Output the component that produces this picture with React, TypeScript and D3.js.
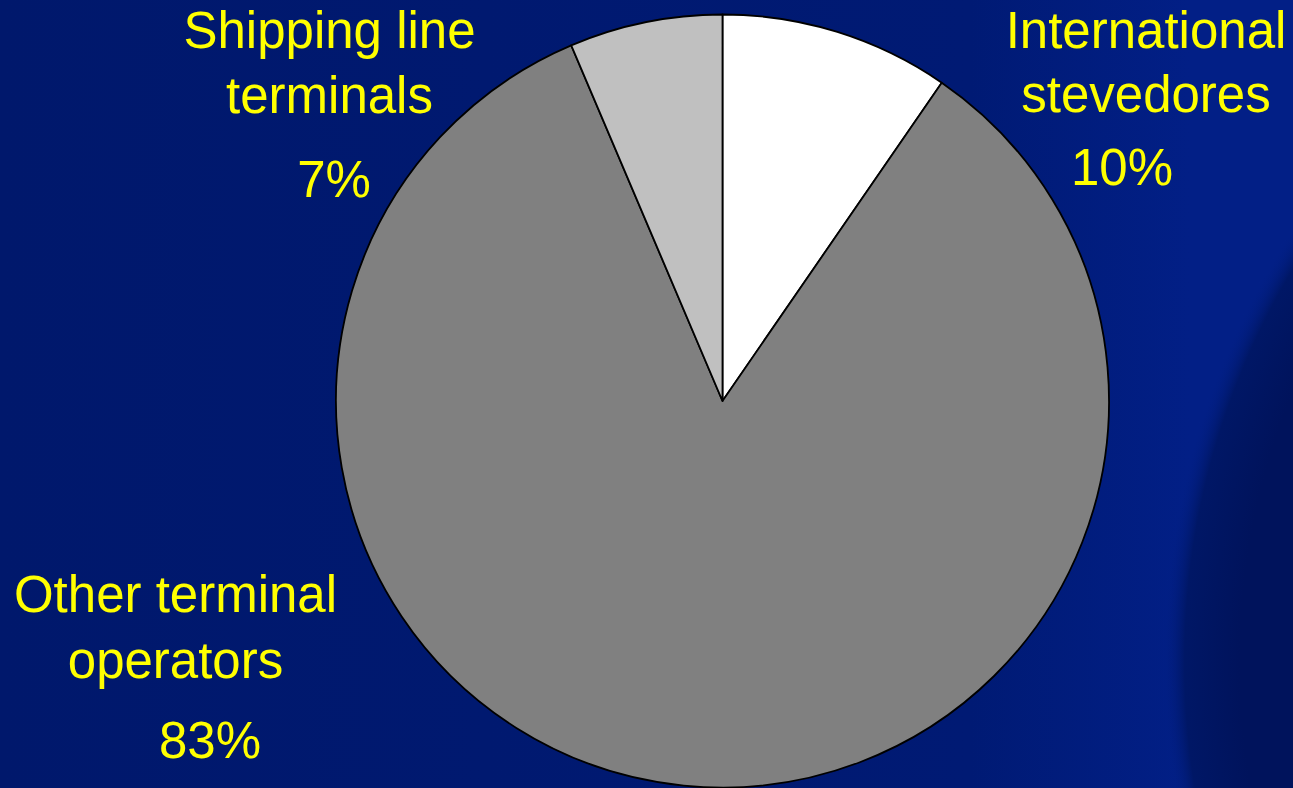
import React from "react";
import * as d3 from "d3";

const categories = ["International stevedores", "Other terminal operators", "Shipping line terminals"];
const shares = [9.6, 84.0, 6.4];
const labelLines = [["International", "stevedores"], ["Other terminal", "operators"], ["Shipping line", "terminals"]];
const pctLabels = ["10%", "83%", "7%"];
const sliceColors = ["#ffffff", "#808080", "#c0c0c0"];

const W = 1293;
const H = 788;
const CX = 722.5;
const CY = 401;
const R = 386.5;

// label layout (center x, baseline of first line, second line, pct line, pct center x)
const labelLayout = [
  { x: 1146, y1: 48, y2: 112, yp: 185, xp: 1122 },
  { x: 175.5, y1: 612, y2: 678, yp: 758, xp: 210 },
  { x: 329.5, y1: 48, y2: 113, yp: 197, xp: 334 },
];

export default function App() {
  const data = categories.map((c, i) => ({ name: c, value: shares[i], i }));
  const pie = d3.pie<any>().sort(null).value((d) => d.value).startAngle(0).endAngle(2 * Math.PI);
  const arcs = pie(data);
  const arc = d3.arc<any>().innerRadius(0).outerRadius(R);

  return (
    <svg
      width={W}
      height={H}
      style={{ position: "absolute", left: 0, top: 0, display: "block" }}
      fontFamily="'Liberation Sans', Arial, sans-serif"
    >
      <defs>
        <linearGradient id="bg" x1="0" y1="0" x2="1" y2="0">
          <stop offset="0" stopColor="#00186c" />
          <stop offset="0.75" stopColor="#001a74" />
          <stop offset="0.92" stopColor="#021f86" />
          <stop offset="1" stopColor="#021f86" />
        </linearGradient>
        <radialGradient id="dark" cx="0.5" cy="0.5" r="0.5">
          <stop offset="0.9" stopColor="#00135c" />
          <stop offset="0.97" stopColor="#001766" />
          <stop offset="1" stopColor="#02208a" stopOpacity="0" />
        </radialGradient>
      </defs>
      <rect x={0} y={0} width={W} height={H} fill="url(#bg)" />
      <circle cx={1951} cy={662} r={790} fill="url(#dark)" />
      <g transform={`translate(${CX},${CY})`}>
        {arcs.map((a, i) => (
          <path key={i} d={arc(a) as string} fill={sliceColors[i]} stroke="#000" strokeWidth={1.8} strokeLinejoin="round" />
        ))}
      </g>
      {labelLayout.map((l, i) => (
        <g key={i} fill="#ffff00" fontSize={51} textAnchor="middle">
          <text x={l.x} y={l.y1}>{labelLines[i][0]}</text>
          <text x={l.x} y={l.y2}>{labelLines[i][1]}</text>
          <text x={l.xp} y={l.yp}>{pctLabels[i]}</text>
        </g>
      ))}
    </svg>
  );
}
